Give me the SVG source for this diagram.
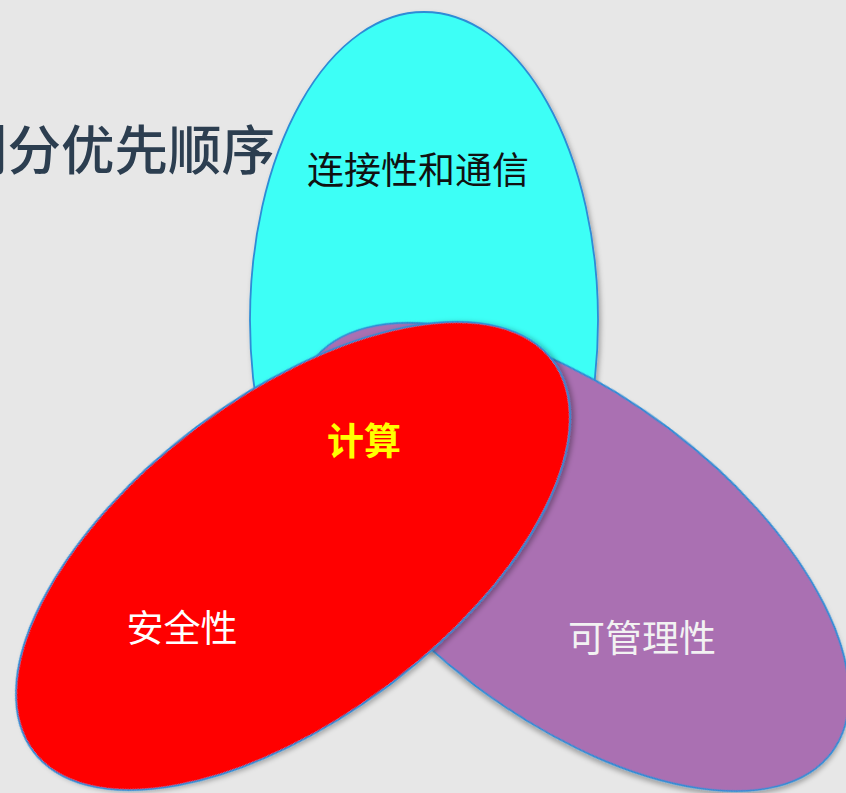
<svg xmlns="http://www.w3.org/2000/svg" width="846" height="793" viewBox="0 0 846 793">
<style>
.shape{stroke:#2E8BD6;stroke-width:1.8;filter:url(#sh)}
.lbl{font-family:"Noto Sans CJK SC","Noto Sans",sans-serif;font-size:37px;text-anchor:middle}
</style>
<defs>
<filter id="sh" x="-10%" y="-10%" width="120%" height="120%">
<feDropShadow dx="2" dy="3" stdDeviation="2.5" flood-color="#000" flood-opacity="0.3"/>
</filter>
</defs>
<rect width="846" height="793" fill="#E7E7E7"/>
<text x="-46" y="170" font-family="'Noto Sans CJK SC','Noto Sans',sans-serif" font-size="53.5" font-weight="500" fill="#2C3E50">划分优先顺序</text>
<g id="connectivity">
<ellipse class="shape" cx="424" cy="320" rx="174" ry="308" fill="#3CFFF6"/>
<text class="lbl" x="418" y="184" fill="#111">连接性和通信</text>
</g>
<g id="manageability">
<ellipse class="shape" cx="572" cy="557" rx="325" ry="161" transform="rotate(37 572 557)" fill="#AA70B2"/>
<text class="lbl" x="642" y="652" fill="#F2F2F2">可管理性</text>
</g>
<g id="security">
<ellipse class="shape" cx="293" cy="556" rx="325" ry="161" transform="rotate(-37 293 556)" fill="#FF0000"/>
<text class="lbl" x="182" y="642" fill="#FFFFFF">安全性</text>
<text class="lbl" x="364" y="455" fill="#FFFF00" font-weight="bold">计算</text>
</g>
<g id="connectors"></g>
</svg>
